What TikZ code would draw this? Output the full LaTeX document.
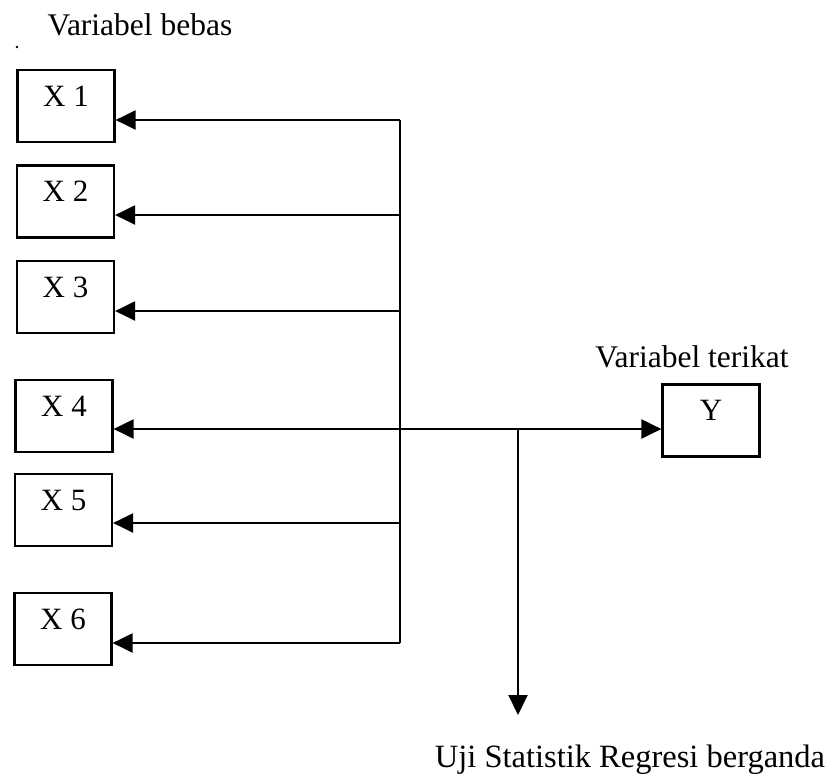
\documentclass[tikz,border=0pt]{standalone}
\usepackage{fontspec}
\setmainfont{Liberation Serif}
\usetikzlibrary{arrows.meta}
\begin{document}
\begin{tikzpicture}[x=1pt,y=-1pt,
  varbox/.style={draw, line width=2.2pt, minimum width=97pt, minimum height=72pt,
    inner sep=0pt, text height=21pt, text depth=21pt, font=\fontsize{31}{36}\selectfont},
  lbl/.style={inner sep=0pt, font=\fontsize{31.5}{38}\selectfont},
  wire/.style={line width=2.2pt},
  arr/.style={line width=2.2pt, -{Triangle[length=20pt,width=19pt]}}]
\useasboundingbox (0,0) rectangle (828,777);
\fill[white] (0,0) rectangle (828,777);
% labels
\node[lbl] (lbebas) at (140,25) {Variabel bebas};
\node[lbl] (lterikat) at (692,357) {Variabel terikat};
\node[lbl, font=\fontsize{32.5}{38}\selectfont] (luji) at (630,760) {Uji Statistik Regresi berganda};
\fill (17,47) circle (1.3pt);
% boxes
\node[varbox] (X1) at (66,106) {X 1};
\node[varbox] (X2) at (65.5,201.5) {X 2};
\node[varbox] (X3) at (65.5,297) {X 3};
\node[varbox] (X4) at (64,416) {X 4};
\node[varbox] (X5) at (63.5,510) {X 5};
\node[varbox] (X6) at (63,629) {X 6};
\node[varbox] (Y) at (711,420.5) {Y};
% bus
\coordinate (b1) at (400,120);
\coordinate (b2) at (400,215);
\coordinate (b3) at (400,311);
\coordinate (b4) at (400,429);
\coordinate (b5) at (400,523);
\coordinate (b6) at (400,643);
\coordinate (br) at (518,429);
\coordinate (bd) at (518,715);
\draw[wire] (b1) -- (b6);
\draw[arr] (b1) -- (b1 -| X1.east);
\draw[arr] (b2) -- (b2 -| X2.east);
\draw[arr] (b3) -- (b3 -| X3.east);
\draw[arr] (b4) -- (b4 -| X4.east);
\draw[arr] (b5) -- (b5 -| X5.east);
\draw[arr] (b6) -- (b6 -| X6.east);
\draw[arr] (b4) -- (b4 -| Y.west);
\draw[arr] (br) -- (bd);
\end{tikzpicture}
\end{document}
